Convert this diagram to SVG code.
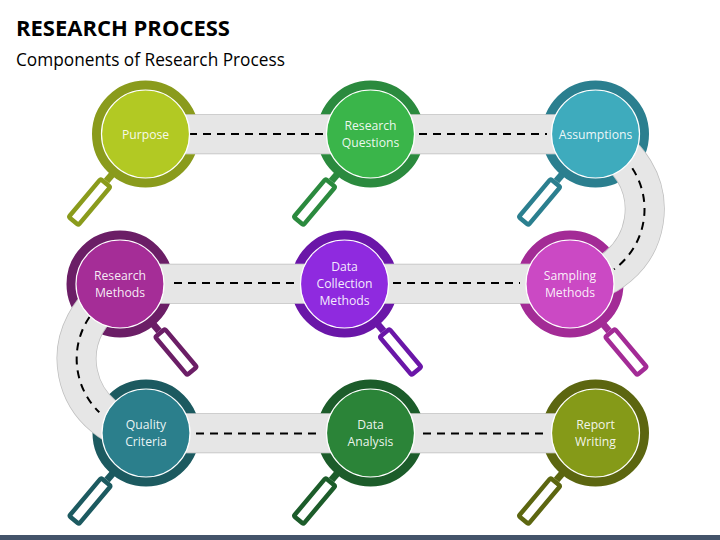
<svg xmlns="http://www.w3.org/2000/svg" xmlns:xlink="http://www.w3.org/1999/xlink" width="720" height="540" viewBox="0 0 720 540">
<style>
.title{font-family:"Open Sans","Liberation Sans",sans-serif;font-weight:700;font-size:22px;fill:#000}
.sub{font-family:"Open Sans","Liberation Sans",sans-serif;font-size:17.25px;fill:#000}
.lbl{font-family:"Open Sans","Liberation Sans",sans-serif;font-size:12.2px;fill:#fff;fill-opacity:.92;text-anchor:middle}
.edge{fill:none;stroke:#bfbfbf;stroke-width:40}
.bed{fill:none;stroke:#e6e6e6;stroke-width:38.5}
.dash{fill:none;stroke:#000;stroke-width:2;stroke-dasharray:8 6}
.ring{fill:none;stroke-width:10;mask:url(#underRoad)}
.disc{stroke:#fff;stroke-width:1.2}
.handle{fill:#fff;stroke-width:4.5;stroke-linejoin:round}
.neck{fill:none;stroke-width:7}
</style>
<defs>
<path id="roads" d="M145 134.3H595.5M593.4 138.5A74.5 74.5 0 0 1 570 283.8H120M122.5 290A74.5 74.5 0 0 0 151 433.3H595.5"/>
<mask id="underRoad" maskUnits="userSpaceOnUse" x="0" y="0" width="720" height="540">
<rect width="720" height="540" fill="#fff"/>
<use xlink:href="#roads" href="#roads" fill="none" stroke="#000" stroke-width="40"/>
</mask>
<g id="lens-left">
<path class="neck" d="M-39 47L-33 40"/>
<rect class="handle" x="-6.25" y="-24.75" width="12.5" height="49.5" rx="1.5" transform="translate(-56 68) rotate(40)"/>
</g>
<g id="lens-right">
<path class="neck" d="M39 47L33 40"/>
<rect class="handle" x="-6.25" y="-24.75" width="12.5" height="49.5" rx="1.5" transform="translate(56 68) rotate(-40)"/>
</g>
</defs>
<rect width="720" height="540" fill="#fff"/>
<text class="title" x="16" y="36">RESEARCH PROCESS</text>
<text class="sub" x="16" y="66">Components of Research Process</text>
<g id="connectors">
<use xlink:href="#roads" href="#roads" class="edge"/>
<use xlink:href="#roads" href="#roads" class="bed"/>
<path class="dash" d="M189 134H323M419 134H547"/>
<path class="dash" d="M632.3 168.3A74.5 74.5 0 0 1 614 269.3"/>
<path class="dash" d="M174 283H296M393 283H520"/>
<path class="dash" d="M89.5 317A74.5 74.5 0 0 0 99.3 412.3"/>
<path class="dash" d="M196 433.5H317M423 433.5H544"/>
</g>
<g id="node-purpose"><circle class="ring" cx="145.5" cy="134" r="48.5" stroke="#8a9b1c"/><g transform="translate(145.5 134)"><use xlink:href="#lens-left" href="#lens-left" stroke="#8a9b1c"/><circle class="disc" r="44" fill="#b2c923"/><text class="lbl" y="5">Purpose</text></g></g>
<g id="node-research-questions"><circle class="ring" cx="370.5" cy="134" r="48.5" stroke="#2b8a3e"/><g transform="translate(370.5 134)"><use xlink:href="#lens-left" href="#lens-left" stroke="#2b8a3e"/><circle class="disc" r="44" fill="#3ab54a"/><text class="lbl" y="-4">Research</text><text class="lbl" y="13">Questions</text></g></g>
<g id="node-assumptions"><circle class="ring" cx="595.5" cy="134" r="48.5" stroke="#2b7f8f"/><g transform="translate(595.5 134)"><use xlink:href="#lens-left" href="#lens-left" stroke="#2b7f8f"/><circle class="disc" r="44" fill="#3eabbd"/><text class="lbl" y="5">Assumptions</text></g></g>
<g id="node-research-methods"><circle class="ring" cx="120" cy="284" r="48.5" stroke="#6b1e66"/><g transform="translate(120 284)"><use xlink:href="#lens-right" href="#lens-right" stroke="#6b1e66"/><circle class="disc" r="44" fill="#a52d97"/><text class="lbl" y="-4">Research</text><text class="lbl" y="13">Methods</text></g></g>
<g id="node-data-collection"><circle class="ring" cx="344.5" cy="284" r="48.5" stroke="#6a16a8"/><g transform="translate(344.5 284)"><use xlink:href="#lens-right" href="#lens-right" stroke="#6a16a8"/><circle class="disc" r="44" fill="#8f2adf"/><text class="lbl" y="-13">Data</text><text class="lbl" y="4">Collection</text><text class="lbl" y="21">Methods</text></g></g>
<g id="node-sampling"><circle class="ring" cx="570" cy="284" r="48.5" stroke="#a32b96"/><g transform="translate(570 284)"><use xlink:href="#lens-right" href="#lens-right" stroke="#a32b96"/><circle class="disc" r="44" fill="#cb49c4"/><text class="lbl" y="-4">Sampling</text><text class="lbl" y="13">Methods</text></g></g>
<g id="node-quality"><circle class="ring" cx="146" cy="433" r="48.5" stroke="#1c5a60"/><g transform="translate(146 433)"><use xlink:href="#lens-left" href="#lens-left" stroke="#1c5a60"/><circle class="disc" r="44" fill="#2b7f8c"/><text class="lbl" y="-4">Quality</text><text class="lbl" y="13">Criteria</text></g></g>
<g id="node-data-analysis"><circle class="ring" cx="370.5" cy="433" r="48.5" stroke="#1c5c2a"/><g transform="translate(370.5 433)"><use xlink:href="#lens-left" href="#lens-left" stroke="#1c5c2a"/><circle class="disc" r="44" fill="#2b8438"/><text class="lbl" y="-4">Data</text><text class="lbl" y="13">Analysis</text></g></g>
<g id="node-report"><circle class="ring" cx="595.5" cy="433" r="48.5" stroke="#5c6610"/><g transform="translate(595.5 433)"><use xlink:href="#lens-left" href="#lens-left" stroke="#5c6610"/><circle class="disc" r="44" fill="#859a18"/><text class="lbl" y="-4">Report</text><text class="lbl" y="13">Writing</text></g></g>
<rect id="footer-bar" x="0" y="535" width="720" height="5" fill="#44546a"/>
</svg>
